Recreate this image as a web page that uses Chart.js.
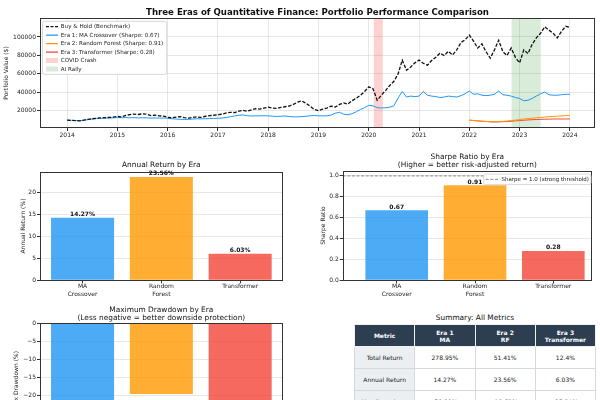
<!DOCTYPE html>
<html>
<head>
<meta charset="utf-8">
<script src="https://cdn.jsdelivr.net/npm/chart.js@4.4.0/dist/chart.umd.min.js"></script>
<style>
  html, body { margin: 0; padding: 0; background: #fff; }
  #page { position: relative; width: 600px; height: 400px; overflow: hidden; font-family: 'DejaVu Sans', sans-serif; }
  canvas { position: absolute; }
  #tableTitle { position: absolute; left: 354px; width: 242px; top: 313px; text-align: center; font-size: 7.4px; color: #111; }
  #summary { position: absolute; left: 354px; top: 324px; width: 242px; border-collapse: collapse; table-layout: fixed; font-size: 6px; color: #222; }
  #summary td, #summary th { border: 1px solid #d5d8dc; text-align: center; padding: 0; line-height: 7px; }
  #summary th { background: #2c3e50; color: #fff; font-weight: bold; height: 21px; border-color: #eef1f2; }
  #summary td { height: 21px; background: #fff; }
  #summary td:first-child { background: #eceff1; }
</style>
</head>
<body>
<div id="page">
  <canvas id="main" width="600" height="145" style="left:0;top:0"></canvas>
  <canvas id="annual" width="290" height="150" style="left:0;top:150px"></canvas>
  <canvas id="sharpe" width="300" height="150" style="left:300px;top:150px"></canvas>
  <canvas id="drawdown" width="290" height="160" style="left:0;top:295px"></canvas>
  <div id="tableTitle">Summary: All Metrics</div>
  <table id="summary"></table>
</div>
<script>
// ---- data ----
var years = [2014, 2015, 2016, 2017, 2018, 2019, 2020, 2021, 2022, 2023, 2024];
var benchStart = 2014;   // monthly values from Jan 2014
var benchmark = [
  10000, 9800, 9500, 9300, 10100, 10900, 11500, 12000, 12400, 12700, 12900, 13300,
  14000, 13600, 15200, 16000, 16600, 16100, 16900, 16400, 14900, 15500, 14700, 14300,
  13100, 12500, 13300, 13800, 12700, 12200, 12900, 13500, 13000, 14200, 14800, 15300,
  15800, 16500, 17800, 18400, 18200, 19800, 20500, 19700, 21200, 22400, 21900, 23100,
  24000, 23100, 22700, 23800, 24500, 25300, 27000, 29400, 30800, 28300, 25000, 21500,
  20300, 21900, 23100, 25200, 24100, 27000, 28600, 27300, 31000, 33600, 36800, 41000,
  46000, 44000, 31500, 37000, 42000, 47500, 52000, 60000, 75000, 64000, 67500, 72000,
  75000, 71500, 69500, 74500, 78000, 82500, 80000, 84500, 80500, 86000, 94000, 97000,
  102000, 95500, 88000, 92500, 84000, 77000, 86000, 96500, 84000, 80000, 88000, 78000,
  72000, 86000, 82000, 92000, 99000, 104000, 111000, 107500, 104000, 99000, 106000, 111500,
  110500
];
var maCrossover = [
  10000, 9800, 9500, 9300, 9800, 10500, 11200, 11800, 12000, 12200, 12300, 12500,
  12800, 12600, 12900, 12500, 12700, 12400, 12600, 12500, 12200, 12400, 12200, 12300,
  12000, 11500, 11200, 10900, 10700, 10800, 11200, 11500, 11400, 11500, 11700, 11900,
  12100, 12300, 12900, 13800, 14500, 15300, 15600, 14800, 14500, 14700, 14600, 14800,
  14600, 14300, 14000, 14200, 14500, 14000, 13500, 13600, 13800, 14200, 14700, 15000,
  14700, 14600, 14700, 15500, 17500, 18500, 16500, 15800, 17000, 19000, 21500, 23500,
  26000, 25500, 23500, 23200, 23400, 24000, 25500, 34000, 41000, 35000, 36000, 35500,
  36000, 41000, 37000, 36000, 35500, 34500, 35000, 36000, 35500, 35000, 36500, 38500,
  41500, 38000, 38500, 37000, 36500, 37000, 38000, 41500, 37500, 37000, 36000, 34500,
  33500, 31000, 31500, 33500, 36000, 38500, 40500, 37500, 37000, 37000, 37500, 38000,
  37900
];
var eraStart = 2022;     // monthly values from Jan 2022
var randomForest = [
  10000, 9600, 9200, 8900, 8600, 8400, 8300, 8500, 8700, 9000, 9500, 10000,
  10700, 11200, 11700, 12100, 12500, 12900, 13300, 13700, 14000, 14300, 14600, 14900,
  15141
];
var transformer = [
  10000, 9600, 9200, 8800, 8500, 8200, 8000, 8100, 8300, 8500, 8800, 9200,
  9600, 9900, 10200, 10500, 10700, 10900, 11000, 11100, 11200, 11300, 11200, 11300,
  11240
];
var covidSpan = [2020.1, 2020.28];
var aiRallySpan = [2022.84, 2023.42];
var valueTicks = [20000, 40000, 60000, 80000, 100000];

var eraNames = [['MA', 'Crossover'], ['Random', 'Forest'], ['Transformer']];
var annualReturn = [14.27, 23.56, 6.03];
var sharpeRatio = [0.67, 0.91, 0.28];
var sharpeThreshold = 1.0;
var maxDrawdown = [-30.09, -19.65, -28.94];
var annualTicks = [0, 5, 10, 15, 20];
var sharpeTicks = [0, 0.2, 0.4, 0.6, 0.8, 1.0];
var drawdownTicks = [0, -5, -10, -15, -20, -25, -30];
var barRange = [-0.54, 2.54];
var sharpeRange = [-0.69, 2.494];

var tableHeader = [['Metric'], ['Era 1', 'MA'], ['Era 2', 'RF'], ['Era 3', 'Transformer']];
var tableRows = [
  ['Total Return', '278.95%', '51.41%', '12.4%'],
  ['Annual Return', '14.27%', '23.56%', '6.03%'],
  ['Max Drawdown', '-30.09%', '-19.65%', '-28.94%'],
  ['Sharpe Ratio', '0.67', '0.91', '0.28']
];

// ---- styles ----
var BLUE = '#2196F3', ORANGE = '#FF9800', RED = '#F44336';
var BAR_COLORS = ['rgba(33,150,243,0.8)', 'rgba(255,152,0,0.8)', 'rgba(244,67,54,0.8)'];
var GRID = 'rgba(176,176,176,0.3)';
var AXIS = '#333';

Chart.defaults.font.family = "'DejaVu Sans', sans-serif";
Chart.defaults.color = '#222';
Chart.defaults.animation = false;

function monthly(values, start) {
  return values.map(function (v, i) { return { x: start + i / 12, y: v }; });
}
function fixedTicks(list) {
  return function (scale) { scale.ticks = list.map(function (v) { return { value: v }; }); };
}

// axes frame
var framePlugin = {
  id: 'frame',
  afterDatasetsDraw: function (chart) {
    var a = chart.chartArea, ctx = chart.ctx;
    ctx.save();
    ctx.strokeStyle = AXIS;
    ctx.lineWidth = 1;
    ctx.strokeRect(Math.round(a.left) + 0.5, Math.round(a.top) + 0.5,
      Math.round(a.right - a.left) - 1, Math.round(a.bottom - a.top) - 1);
    ctx.restore();
  }
};

// shaded date ranges
var spanPlugin = {
  id: 'spans',
  beforeDatasetsDraw: function (chart) {
    var a = chart.chartArea, ctx = chart.ctx, x = chart.scales.x;
    var spans = [[covidSpan, 'rgba(255,0,0,0.18)'], [aiRallySpan, 'rgba(0,128,0,0.15)']];
    ctx.save();
    spans.forEach(function (s) {
      var x0 = x.getPixelForValue(s[0][0]), x1 = x.getPixelForValue(s[0][1]);
      ctx.fillStyle = s[1];
      ctx.fillRect(x0, a.top, x1 - x0, a.bottom - a.top);
    });
    ctx.restore();
  }
};

// legend inside the axes with a matplotlib-like frame
var placeLegend = {
  id: 'placeLegend',
  afterLayout: function (chart, args, o) {
    var lg = chart.legend;
    if (!lg || !lg.legendHitBoxes || !lg.legendHitBoxes.length) return;
    var pad = lg.options.labels.padding, a = chart.chartArea;
    var w = Math.max.apply(null, lg.legendHitBoxes.map(function (b) { return b.left + b.width; }));
    var left = o.anchor === 'right' ? a.right - o.dx - w : a.left + o.dx;
    lg.left = left - pad; lg.right = lg.left + lg.width;
    lg.top = a.top + o.dy - pad; lg.bottom = lg.top + lg.height;
  },
  afterDatasetsDraw: function (chart, args, o) {
    var lg = chart.legend, hb = lg && lg.legendHitBoxes;
    if (!hb || !hb.length) return;
    var x0 = Math.min.apply(null, hb.map(function (b) { return b.left; })) - o.fx;
    var x1 = Math.max.apply(null, hb.map(function (b) { return b.left + b.width; })) + o.fx;
    var y0 = Math.min.apply(null, hb.map(function (b) { return b.top; })) - o.fy;
    var y1 = Math.max.apply(null, hb.map(function (b) { return b.top + b.height; })) + o.fy;
    var ctx = chart.ctx;
    ctx.save();
    ctx.beginPath();
    ctx.roundRect(x0, y0, x1 - x0, y1 - y0, 2);
    ctx.fillStyle = '#fff';
    ctx.fill();
    ctx.strokeStyle = '#cfcfcf';
    ctx.lineWidth = 0.8;
    ctx.stroke();
    ctx.restore();
    lg.draw();
  }
};

// value labels above bars
function barLabels(values, fmt) {
  return {
    id: 'barLabels',
    afterDatasetsDraw: function (chart) {
      var ctx = chart.ctx, meta = chart.getDatasetMeta(0);
      ctx.save();
      ctx.font = 'bold 6px "DejaVu Sans"';
      ctx.fillStyle = '#111';
      ctx.textAlign = 'center';
      ctx.textBaseline = 'bottom';
      meta.data.forEach(function (bar, i) { ctx.fillText(fmt(values[i]), bar.x, bar.y - 0.3); });
      ctx.restore();
    }
  };
}

function lineItem(text, color, width, dash) {
  return { text: text, fillStyle: 'rgba(0,0,0,0)', strokeStyle: color, lineWidth: width,
    lineDash: dash || [], pointStyle: 'line', hidden: false, fontColor: '#222' };
}
function patchItem(text, color) {
  return { text: text, fillStyle: color, strokeStyle: color, lineWidth: 0,
    pointStyle: 'rect', hidden: false, fontColor: '#222' };
}

// ---- top panel ----
new Chart(document.getElementById('main'), {
  type: 'line',
  data: {
    datasets: [
      { label: 'Buy & Hold (Benchmark)', data: monthly(benchmark, benchStart),
        borderColor: '#111', borderWidth: 1.3, borderDash: [3.5, 1.6] },
      { label: 'Era 1: MA Crossover (Sharpe: 0.67)', data: monthly(maCrossover, benchStart),
        borderColor: BLUE, borderWidth: 1 },
      { label: 'Era 2: Random Forest (Sharpe: 0.91)', data: monthly(randomForest, eraStart),
        borderColor: ORANGE, borderWidth: 1 },
      { label: 'Era 3: Transformer (Sharpe: 0.28)', data: monthly(transformer, eraStart),
        borderColor: RED, borderWidth: 1 }
    ]
  },
  options: {
    responsive: false,
    layout: { padding: { right: 5 } },
    elements: { point: { radius: 0 }, line: { tension: 0, fill: false } },
    scales: {
      x: {
        type: 'linear', min: 2013.46, max: 2024.5,
        afterBuildTicks: fixedTicks(years),
        afterFit: function (s) { s.height = 17; },
        ticks: { font: { size: 6 }, padding: 1, maxRotation: 0, autoSkip: false,
          callback: function (v) { return String(v); } },
        grid: { color: GRID, tickColor: AXIS, tickLength: 3 },
        border: { display: false }
      },
      y: {
        min: 1500, max: 120500,
        afterBuildTicks: fixedTicks(valueTicks),
        afterFit: function (s) { s.width = 40; },
        ticks: { font: { size: 6 }, padding: 1, callback: function (v) { return String(v); } },
        grid: { color: GRID, tickColor: AXIS, tickLength: 3 },
        border: { display: false },
        title: { display: true, text: 'Portfolio Value ($)', font: { size: 6 }, padding: { top: 3, bottom: 0 } }
      }
    },
    plugins: {
      title: { display: true, fullSize: false, color: '#111',
        text: 'Three Eras of Quantitative Finance: Portfolio Performance Comparison',
        font: { size: 8.6, weight: 'bold' }, padding: { top: 7.4, bottom: 0.3 } },
      legend: {
        position: 'chartArea',
        align: 'start',
        labels: {
          usePointStyle: true, pointStyleWidth: 12, boxHeight: 5, padding: 2.9,
          font: { size: 5.6 },
          generateLabels: function () {
            return [
              lineItem('Buy & Hold (Benchmark)', '#111', 1.3, [3, 1.5]),
              lineItem('Era 1: MA Crossover (Sharpe: 0.67)', BLUE, 1.2),
              lineItem('Era 2: Random Forest (Sharpe: 0.91)', ORANGE, 1.2),
              lineItem('Era 3: Transformer (Sharpe: 0.28)', RED, 1.2),
              patchItem('COVID Crash', 'rgba(255,0,0,0.18)'),
              patchItem('AI Rally', 'rgba(0,128,0,0.15)')
            ];
          }
        }
      },
      tooltip: { enabled: false },
      placeLegend: { anchor: 'left', dx: 6, dy: 5.8, fx: 3.5, fy: 2.5 }
    }
  },
  plugins: [spanPlugin, framePlugin, placeLegend]
});

// ---- bar panels ----
function barScales(range, ticks, yMin, yMax, yTitle, yFmt, yWidth, xHeight, titlePad) {
  return {
    x: {
      type: 'linear', min: range[0], max: range[1], offset: false,
      afterBuildTicks: fixedTicks([0, 1, 2]),
      afterFit: function (s) { s.height = xHeight; },
      ticks: { font: { size: 6 }, padding: 0, maxRotation: 0, autoSkip: false,
        callback: function (v) { return eraNames[v]; } },
      grid: { display: true, drawOnChartArea: false, offset: false, tickColor: AXIS, tickLength: 3 },
      border: { display: false }
    },
    y: {
      min: yMin, max: yMax,
      afterBuildTicks: fixedTicks(ticks),
      afterFit: function (s) { s.width = yWidth; },
      ticks: { font: { size: 6 }, padding: 1, callback: yFmt },
      grid: { color: GRID, tickColor: AXIS, tickLength: 3 },
      border: { display: false },
      title: { display: true, text: yTitle, font: { size: 6 }, padding: { top: titlePad, bottom: 0 } }
    }
  };
}
function barData(values) {
  return values.map(function (v, i) { return { x: i, y: v }; });
}

new Chart(document.getElementById('annual'), {
  type: 'bar',
  data: { datasets: [{ data: barData(annualReturn), backgroundColor: BAR_COLORS,
    barPercentage: 0.8, categoryPercentage: 1 }] },
  options: {
    responsive: false,
    layout: { padding: { right: 7.3 } },
    scales: barScales(barRange, annualTicks, 0, 24.74, 'Annual Return (%)',
      function (v) { return String(v); }, 40, 19.7, 19.4),
    plugins: {
      title: { display: true, fullSize: false, color: '#111', text: 'Annual Return by Era',
        font: { size: 7.4, weight: 'normal', lineHeight: 1.15 }, padding: { top: 10.75, bottom: 2.45 } },
      legend: { display: false }, tooltip: { enabled: false }
    }
  },
  plugins: [framePlugin, barLabels(annualReturn, function (v) { return v.toFixed(2) + '%'; })]
});

new Chart(document.getElementById('sharpe'), {
  type: 'bar',
  data: { datasets: [
    { type: 'bar', data: barData(sharpeRatio), backgroundColor: BAR_COLORS,
      barPercentage: 0.8, categoryPercentage: 1 },
    { type: 'line', label: 'Sharpe = 1.0 (strong threshold)',
      data: [{ x: sharpeRange[0], y: sharpeThreshold }, { x: sharpeRange[1], y: sharpeThreshold }],
      borderColor: '#888', borderWidth: 1, borderDash: [3, 1.6], pointRadius: 0, fill: false }
  ] },
  options: {
    responsive: false,
    layout: { padding: { right: 8 } },
    scales: barScales(sharpeRange, sharpeTicks, 0, 1.05, 'Sharpe Ratio',
      function (v) { return v.toFixed(1); }, 42.7, 19.7, 19.4),
    plugins: {
      title: { display: true, fullSize: false, color: '#111',
        text: ['Sharpe Ratio by Era', '(Higher = better risk-adjusted return)'],
        font: { size: 7.4, weight: 'normal', lineHeight: 1.12 }, padding: { top: 2.55, bottom: 1.57 } },
      legend: {
        position: 'chartArea',
        align: 'start',
        labels: {
          usePointStyle: true, pointStyleWidth: 13, boxHeight: 5, padding: 2.5,
          font: { size: 5.5 },
          generateLabels: function () {
            return [lineItem('Sharpe = 1.0 (strong threshold)', '#888', 1, [3, 1.6])];
          }
        }
      },
      tooltip: { enabled: false },
      placeLegend: { anchor: 'right', dx: 3, dy: 5.9, fx: 2, fy: 2.5 }
    }
  },
  plugins: [framePlugin, barLabels(sharpeRatio, function (v) { return v.toFixed(2); }), placeLegend]
});

new Chart(document.getElementById('drawdown'), {
  type: 'bar',
  data: { datasets: [{ data: barData(maxDrawdown), backgroundColor: BAR_COLORS,
    barPercentage: 0.8, categoryPercentage: 1 }] },
  options: {
    responsive: false,
    layout: { padding: { right: 7.3 } },
    scales: barScales(barRange, drawdownTicks, -31.6, 0, 'Max Drawdown (%)',
      function (v) { return v < 0 ? '\u2212' + Math.abs(v) : String(v); }, 40, 18, 13),
    plugins: {
      title: { display: true, fullSize: false, color: '#111',
        text: ['Maximum Drawdown by Era', '(Less negative = better downside protection)'],
        font: { size: 7.4, weight: 'normal', lineHeight: 1.12 }, padding: { top: 10.85, bottom: 0.87 } },
      legend: { display: false }, tooltip: { enabled: false }
    }
  },
  plugins: [framePlugin]
});

// ---- summary table ----
var table = document.getElementById('summary');
var head = '<tr>' + tableHeader.map(function (h) {
  return '<th>' + h.join('<br>') + '</th>';
}).join('') + '</tr>';
var body = tableRows.map(function (r) {
  return '<tr>' + r.map(function (c) { return '<td>' + c + '</td>'; }).join('') + '</tr>';
}).join('');
table.innerHTML = head + body;
</script>
</body>
</html>
